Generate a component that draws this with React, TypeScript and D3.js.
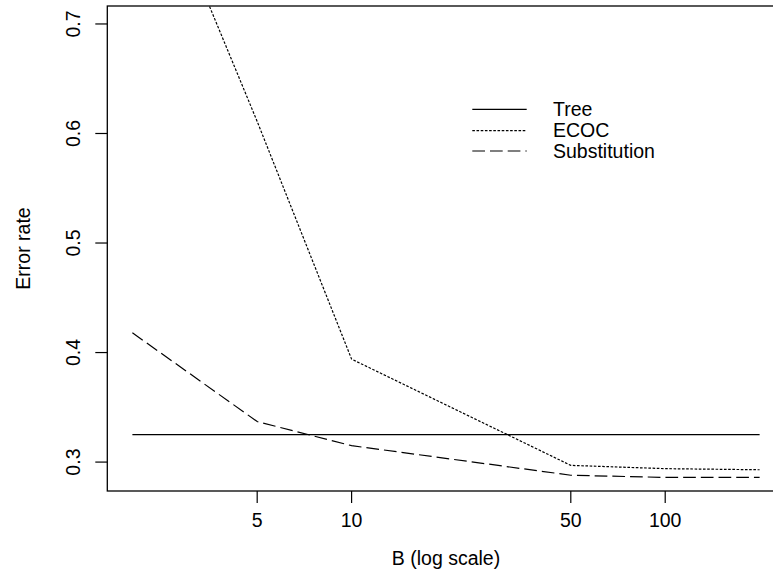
import React from "react";
import * as d3 from "d3";

const B = [2, 5, 10, 50, 100, 200];
const treeErr = [0.325, 0.325, 0.325, 0.325, 0.325, 0.325];
const ecocErr = [0.886, 0.611, 0.394, 0.297, 0.294, 0.293];
const substErr = [0.418, 0.337, 0.315, 0.288, 0.286, 0.286];
const xTicks = [5, 10, 50, 100];
const yTicks = [0.3, 0.4, 0.5, 0.6, 0.7];
const seriesNames = ["Tree", "ECOC", "Substitution"];

const W = 773;
const H = 573;
const left = 107.3;
const right = 784.7;
const top = 6;
const bottom = 491;

const xlim = [2, 200];
const ylim = [0.29, 0.7];

export default function App() {
  const lx0 = Math.log10(xlim[0]);
  const lx1 = Math.log10(xlim[1]);
  const ex = (lx1 - lx0) * 0.04;
  const x = d3
    .scaleLog()
    .domain([Math.pow(10, lx0 - ex), Math.pow(10, lx1 + ex)])
    .range([left, right]);
  const ey = (ylim[1] - ylim[0]) * 0.04;
  const y = d3
    .scaleLinear()
    .domain([ylim[0] - ey, ylim[1] + ey])
    .range([bottom, top]);

  const mk = (vals: number[]) =>
    d3
      .line<number>()
      .x((_, i) => x(B[i]))
      .y((v) => y(v))(vals) || "";

  const dashes = ["", "2.6 1.6", "12.7 5"];
  const series = [treeErr, ecocErr, substErr];
  const font = "'Liberation Sans', Arial, Helvetica, sans-serif";
  const fs = 19.5;
  const legendY = [109.3, 130.7, 151];

  return (
    <svg
      width={W}
      height={H}
      style={{ position: "absolute", left: 0, top: 0, background: "#fff" }}
      fontFamily={font}
      fontSize={fs}
    >
      <defs>
        <clipPath id="plotclip">
          <rect x={left} y={top} width={right - left} height={bottom - top} />
        </clipPath>
      </defs>
      <rect x={0} y={0} width={W} height={H} fill="#fff" />
      <g clipPath="url(#plotclip)">
        {series.map((s, i) => (
          <path
            key={i}
            d={mk(s)}
            fill="none"
            stroke="#000"
            strokeWidth={1.2}
            strokeDasharray={dashes[i] || undefined}
          />
        ))}
      </g>
      <rect
        x={left}
        y={top}
        width={right - left}
        height={bottom - top}
        fill="none"
        stroke="#000"
        strokeWidth={1.3}
      />
      {xTicks.map((t) => (
        <g key={t}>
          <line x1={x(t)} x2={x(t)} y1={bottom} y2={bottom + 12} stroke="#000" strokeWidth={1.2} />
          <text x={x(t)} y={527} textAnchor="middle">
            {t}
          </text>
        </g>
      ))}
      {yTicks.map((t) => (
        <g key={t}>
          <line x1={left - 12} x2={left} y1={y(t)} y2={y(t)} stroke="#000" strokeWidth={1.2} />
          <text
            transform={`translate(80,${y(t)}) rotate(-90)`}
            textAnchor="middle"
          >
            {t.toFixed(1)}
          </text>
        </g>
      ))}
      <text x={(left + right) / 2} y={565} textAnchor="middle">
        B (log scale)
      </text>
      <text
        transform={`translate(30,${(top + bottom) / 2}) rotate(-90)`}
        textAnchor="middle"
      >
        Error rate
      </text>
      {seriesNames.map((n, i) => (
        <g key={n}>
          <line
            x1={472.3}
            x2={526.7}
            y1={legendY[i]}
            y2={legendY[i]}
            stroke="#000"
            strokeWidth={1.2}
            strokeDasharray={dashes[i] || undefined}
          />
          <text x={553} y={legendY[i] + 6.6}>
            {n}
          </text>
        </g>
      ))}
    </svg>
  );
}
